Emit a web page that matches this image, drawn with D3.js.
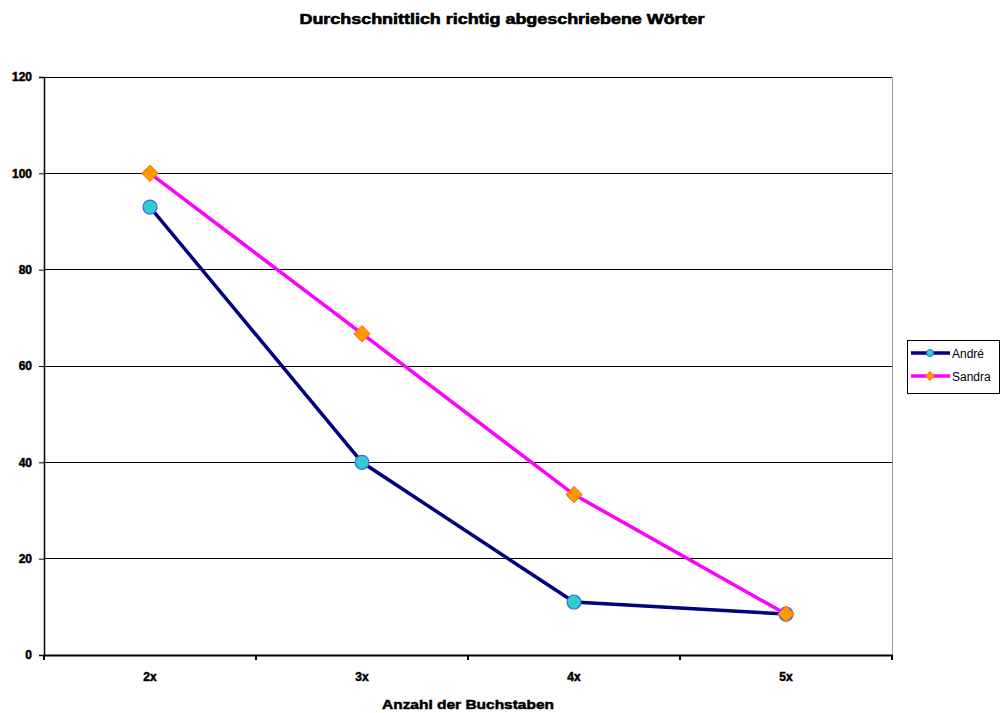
<!DOCTYPE html>
<html><head><meta charset="utf-8">
<script src="https://cdn.jsdelivr.net/npm/d3@7"></script>
<style>body{margin:0;background:#fff;} text{font-family:"Liberation Sans",Arial,sans-serif;}</style>
</head><body>
<svg id="c" width="1003" height="713"></svg>
<script>
const categories = ["2x","3x","4x","5x"];
const andre = [93, 40, 11, 8.5];
const sandra = [100, 66.7, 33.3, 8.5];
const yTicks = [0,20,40,60,80,100,120];
const seriesNames = ["André","Sandra"];

const svg = d3.select("#c");
const L=44, R=892, T=77, B=655;
const x = d3.scaleBand().domain(categories).range([L,R]);
const y = d3.scaleLinear().domain([0,120]).range([B,T]);

svg.append("text").attr("x",502).attr("y",24).attr("text-anchor","middle")
  .attr("font-weight","bold").attr("font-size",14).attr("stroke","#000").attr("stroke-width",0.6)
  .attr("textLength",405).attr("lengthAdjust","spacingAndGlyphs")
  .text("Durchschnittlich richtig abgeschriebene Wörter");

// gridlines
svg.append("g").selectAll("line").data(yTicks.filter(d=>d>0)).join("line")
  .attr("x1",L).attr("x2",R).attr("y1",d=>y(d)).attr("y2",d=>y(d))
  .attr("stroke","#000").attr("stroke-width",1).attr("shape-rendering","crispEdges");
// right border
svg.append("line").attr("x1",R).attr("x2",R).attr("y1",T).attr("y2",B)
  .attr("stroke","#999").attr("shape-rendering","crispEdges");

const ya = svg.append("g").attr("transform",`translate(${L},0)`)
  .call(d3.axisLeft(y).tickValues(yTicks).tickSize(5).tickPadding(7));
ya.select(".domain").attr("stroke-width",1.5);
ya.selectAll("text").attr("font-weight","bold").attr("font-size",12).attr("stroke","#000").attr("stroke-width",0.5)
  .attr("font-family","Liberation Sans, Arial");

const xa = svg.append("g").attr("transform",`translate(0,${B})`)
  .call(d3.axisBottom(x).tickSize(0).tickPadding(17));
xa.select(".domain").attr("stroke-width",2);
xa.selectAll("text").attr("font-weight","bold").attr("font-size",12).attr("stroke","#000").attr("stroke-width",0.5)
  .attr("font-family","Liberation Sans, Arial");
// category boundary ticks
xa.selectAll(".bt").data(d3.range(categories.length+1)).join("line").attr("class","bt")
  .attr("x1",i=>L+i*x.step()).attr("x2",i=>L+i*x.step()).attr("y1",0).attr("y2",5)
  .attr("stroke","#000").attr("stroke-width",2);

svg.append("text").attr("x",468).attr("y",709).attr("text-anchor","middle")
  .attr("font-weight","bold").attr("font-size",13).attr("stroke","#000").attr("stroke-width",0.5)
  .attr("textLength",172).attr("lengthAdjust","spacingAndGlyphs")
  .text("Anzahl der Buchstaben");

const cx = d => x(d)+x.bandwidth()/2;
const line = d3.line().x((d,i)=>cx(categories[i])).y(d=>y(d));

svg.append("path").datum(andre).attr("d",line).attr("fill","none").attr("stroke","#000080").attr("stroke-width",3.5);
svg.append("path").datum(sandra).attr("d",line).attr("fill","none").attr("stroke","#ff00ff").attr("stroke-width",3.5);

svg.append("g").selectAll("circle").data(andre).join("circle")
  .attr("cx",(d,i)=>cx(categories[i])).attr("cy",d=>y(d)).attr("r",7)
  .attr("fill","#33cccc").attr("stroke","#3366ff").attr("stroke-width",1.2);
const dia = d3.symbol().type(d3.symbolDiamond2).size(170);
svg.append("g").selectAll("path").data(sandra).join("path")
  .attr("d",dia).attr("transform",(d,i)=>`translate(${cx(categories[i])},${y(d)})`)
  .attr("fill","#ff9900").attr("stroke","#ff6600").attr("stroke-width",1);

// legend
const lg = svg.append("g");
lg.append("rect").attr("x",907.5).attr("y",340.5).attr("width",92).attr("height",53)
  .attr("fill","#fff").attr("stroke","#000");
const lcol = [["#000080","#33cccc","#3366ff"],["#ff00ff","#ff9900","#ff6600"]];
seriesNames.forEach((n,i)=>{
  const yy = 353 + i*23;
  lg.append("line").attr("x1",911).attr("x2",950).attr("y1",yy).attr("y2",yy).attr("stroke",lcol[i][0]).attr("stroke-width",3.5);
  if(i===0) lg.append("circle").attr("cx",930).attr("cy",yy).attr("r",3.5).attr("fill",lcol[i][1]).attr("stroke",lcol[i][2]);
  else lg.append("path").attr("d",d3.symbol().type(d3.symbolDiamond2).size(50)).attr("transform",`translate(930,${yy})`).attr("fill",lcol[i][1]).attr("stroke",lcol[i][2]);
  lg.append("text").attr("x",952).attr("y",yy+4.5).attr("font-size",12).text(n);
});
</script>
</body></html>
